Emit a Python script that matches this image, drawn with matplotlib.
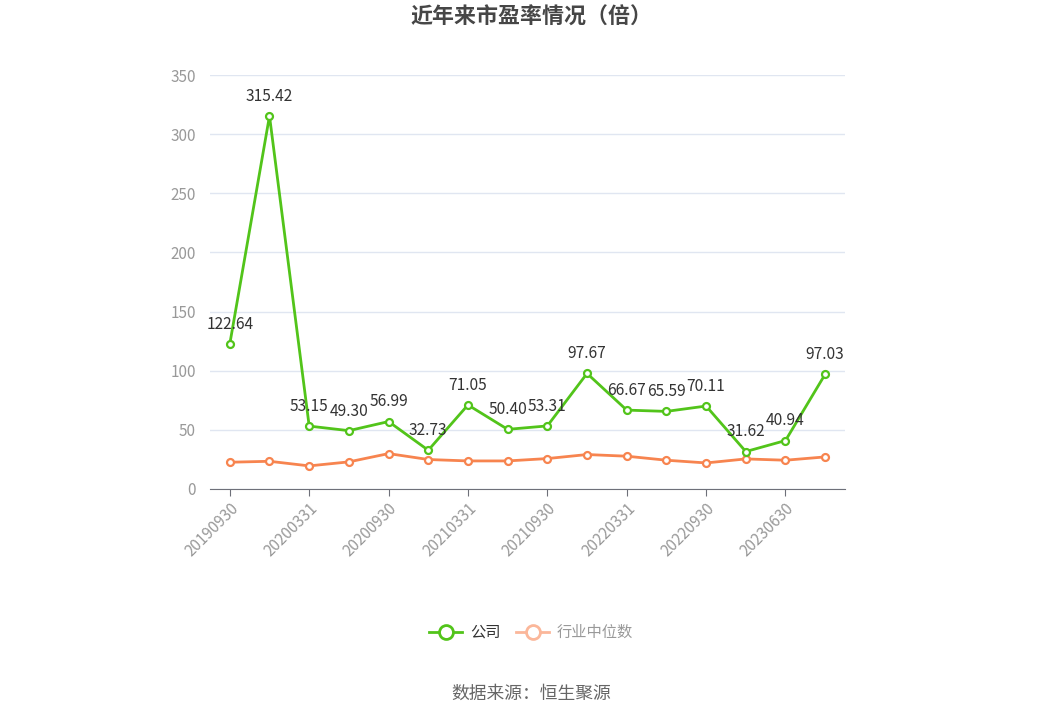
import matplotlib
matplotlib.use("Agg")
import matplotlib.pyplot as plt
from matplotlib.lines import Line2D
import numpy as np

plt.rcParams['font.family'] = ['Noto Sans CJK SC', 'DejaVu Sans']

# Data
periods = ["20190930", "20191231", "20200331", "20200630", "20200930", "20201231",
           "20210331", "20210630", "20210930", "20211231", "20220331", "20220630",
           "20220930", "20230331", "20230630", "20230930"]
company_pe = [122.64, 315.42, 53.15, 49.30, 56.99, 32.73, 71.05, 50.40,
              53.31, 97.67, 66.67, 65.59, 70.11, 31.62, 40.94, 97.03]
industry_pe = [22.6, 23.4, 19.5, 22.9, 29.9, 24.9, 23.7, 23.7,
               25.7, 29.1, 27.7, 24.3, 22.0, 25.4, 24.3, 27.1]

green = "#52c41a"
orange = "#f7844f"

fig = plt.figure(figsize=(10.62, 7.18), dpi=100)
ax = fig.add_axes([0.1977, 0.319, 0.598, 0.5765])

x = np.arange(len(periods))
ax.plot(x, industry_pe, color=orange, lw=2, marker='o', ms=5, mfc='white',
        mec=orange, mew=1.6, zorder=3)
ax.plot(x, company_pe, color=green, lw=2, marker='o', ms=5, mfc='white',
        mec=green, mew=1.6, zorder=4)

for xi, v in zip(x, company_pe):
    ax.annotate(f"{v:.2f}", (xi, v), xytext=(0, 8), textcoords='offset points',
                ha='center', va='bottom', fontsize=11.2, color='#333333', zorder=5)

ax.set_xlim(-0.5, len(periods) - 0.5)
ax.set_ylim(0, 350)
ax.set_yticks(np.arange(0, 351, 50))
ax.grid(axis='y', color='#e0e6f1', lw=1)
ax.set_axisbelow(True)
for s in ['top', 'right', 'left']:
    ax.spines[s].set_visible(False)
ax.spines['bottom'].set_color('#6e7079')
ax.tick_params(axis='y', length=0, colors='#999999', labelsize=11, pad=10)
ax.set_xticks(x[::2])
ax.set_xticklabels(periods[::2], rotation=45, ha='right', rotation_mode='anchor')
ax.tick_params(axis='x', length=5, color='#6e7079', labelcolor='#999999',
               labelsize=11, pad=3)

fig.text(0.5, 0.976, "近年来市盈率情况（倍）", ha='center', va='center',
         fontsize=15.8, fontweight='bold', color='#464646')

handles = [
    Line2D([0], [0], color=green, lw=2, marker='o', ms=10, mfc='white', mec=green, mew=2),
    Line2D([0], [0], color='#fbb79a', lw=2, marker='o', ms=10, mfc='white', mec='#fbb79a', mew=2),
]
leg = fig.legend(handles, ["公司", "行业中位数"], loc='center', bbox_to_anchor=(0.5, 0.119),
                 ncol=2, frameon=False, fontsize=11, handlelength=2.2,
                 columnspacing=1.0, handletextpad=0.5)
leg.get_texts()[0].set_color('#333333')
leg.get_texts()[1].set_color('#999999')

fig.text(0.5, 0.034, "数据来源：恒生聚源", ha='center', va='center',
         fontsize=12.8, color='#666666')

fig.savefig("out.png", dpi=100)
